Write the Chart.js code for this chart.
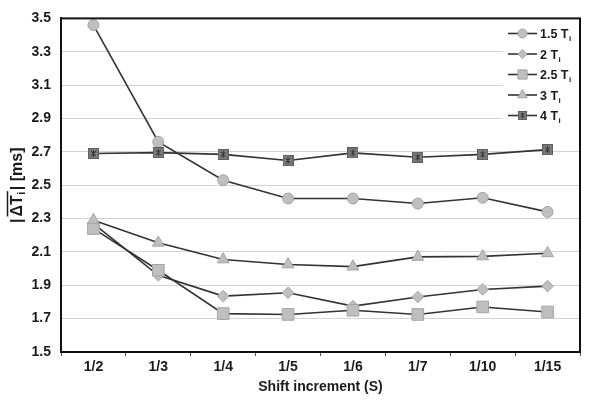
<!DOCTYPE html>
<html><head><meta charset="utf-8">
<script src="https://cdn.jsdelivr.net/npm/chart.js@4/dist/chart.umd.min.js"></script>
<style>html,body{margin:0;padding:0;background:#fff}canvas{display:block}</style>
</head><body>
<canvas id="c" width="600" height="408"></canvas>
<script>
const categories = ['1/2','1/3','1/4','1/5','1/6','1/7','1/10','1/15'];
const seriesLabels = ['1.5 Tᵢ','2 Tᵢ','2.5 Tᵢ','3 Tᵢ','4 Tᵢ'];
const t15 = [3.46, 2.76, 2.53, 2.42, 2.42, 2.39, 2.425, 2.34];
const t2  = [2.27, 1.96, 1.835, 1.855, 1.775, 1.83, 1.875, 1.895];
const t25 = [2.24, 1.99, 1.73, 1.725, 1.75, 1.725, 1.77, 1.74];
const t3  = [2.29, 2.155, 2.055, 2.025, 2.012, 2.07, 2.073, 2.092];
const t4  = [2.69, 2.695, 2.685, 2.648, 2.694, 2.668, 2.685, 2.713];
const yTicks = [1.5, 1.7, 1.9, 2.1, 2.3, 2.5, 2.7, 2.9, 3.1, 3.3, 3.5];
const xTitle = 'Shift increment (S)';
const yTitle = '|ΔTᵢ| [ms]';

const FONT = "'Liberation Sans', Arial, sans-serif";
Chart.defaults.font.family = FONT;
Chart.defaults.color = '#1a1a1a';

const MF = '#bfbfbf', MB = '#a3a3a3', LINE = '#333333';

function starSquare(s) {
  const c = document.createElement('canvas');
  c.width = s; c.height = s;
  const g = c.getContext('2d');
  g.fillStyle = '#7c7c7c'; g.fillRect(0, 0, s, s);
  g.strokeStyle = '#5e5e5e'; g.lineWidth = 1; g.strokeRect(0.5, 0.5, s - 1, s - 1);
  g.strokeStyle = '#2e2e2e'; g.lineWidth = 1;
  const a = s * 0.28, b = s * 0.72, m = s / 2;
  g.beginPath();
  g.moveTo(a, a); g.lineTo(b, b);
  g.moveTo(b, a); g.lineTo(a, b);
  g.moveTo(m, s * 0.2); g.lineTo(m, s * 0.8);
  g.stroke();
  return c;
}
const star11 = starSquare(11);

const styles = [
  {pointStyle: 'circle', radius: 5.5, lr: 4.5},
  {pointStyle: 'rectRot', radius: 5.8, lr: 4.6},
  {pointStyle: 'rect', radius: 8.2, lr: 6.5},
  {pointStyle: 'triangle', radius: 6.8, lr: 5.5},
  {pointStyle: star11, radius: 6, lr: 4.5}
];
const seriesData = [t15, t2, t25, t3, t4];

const datasets = seriesData.map((d, i) => ({
  label: seriesLabels[i],
  data: d,
  borderColor: LINE,
  borderWidth: 1.6,
  backgroundColor: MF,
  pointBackgroundColor: MF,
  pointBorderColor: MB,
  pointBorderWidth: 1,
  pointStyle: styles[i].pointStyle,
  pointRadius: styles[i].radius,
  tension: 0,
  fill: false,
  order: 5 - i
}));

const frame = {
  id: 'frame',
  afterDraw(chart) {
    const {ctx, chartArea: a} = chart;
    ctx.save();
    ctx.strokeStyle = '#111'; ctx.lineWidth = 2;
    ctx.strokeRect(a.left, a.top, a.right - a.left, a.bottom - a.top);
    ctx.restore();
  }
};

const legendBox = {
  id: 'legendBox',
  beforeDatasetsDraw(chart) {
    const ctx = chart.ctx;
    ctx.save();
    ctx.fillStyle = '#fff';
    ctx.fillRect(503, 21, chart.chartArea.right - 504, 106);
    ctx.restore();
  },
  afterDatasetsDraw(chart) {
    const ctx = chart.ctx;
    ctx.save();
    const x0 = 508, x1 = 537, xm = 522.5, tx = 540;
    chart.data.datasets.forEach((ds, i) => {
      const y = 33.5 + i * 20.5;
      ctx.strokeStyle = LINE; ctx.lineWidth = 1.6;
      ctx.beginPath(); ctx.moveTo(x0, y); ctx.lineTo(x1, y); ctx.stroke();
      const st = styles[i];
      if (typeof st.pointStyle === 'string') {
        ctx.fillStyle = MF; ctx.strokeStyle = MB; ctx.lineWidth = 1;
        Chart.helpers.drawPoint(ctx, {pointStyle: st.pointStyle, radius: st.lr, rotation: 0, borderWidth: 1}, xm, y);
      } else {
        ctx.drawImage(st.pointStyle, xm - 4.5, y - 4.5, 9, 9);
      }
      let lab = ds.label, sub = '';
      if (lab.endsWith('ᵢ')) { sub = 'i'; lab = lab.slice(0, -1); }
      ctx.fillStyle = '#1a1a1a';
      ctx.font = 'bold 12.5px ' + FONT;
      ctx.textBaseline = 'alphabetic'; ctx.textAlign = 'left';
      ctx.fillText(lab, tx, y + 4.5);
      const w = ctx.measureText(lab).width;
      ctx.font = 'bold 8px ' + FONT;
      ctx.fillText(sub, tx + w + 0.5, y + 7.5);
    });
    ctx.restore();
  }
};

const yTitlePlugin = {
  id: 'yTitle',
  afterDraw(chart) {
    const ctx = chart.ctx;
    const a = chart.chartArea;
    ctx.save();
    ctx.translate(16, (a.top + a.bottom) / 2);
    ctx.rotate(-Math.PI / 2);
    ctx.fillStyle = '#1a1a1a';
    const big = 'bold 16px ' + FONT, small = 'bold 11px ' + FONT;
    const p1 = yTitle.slice(0, 1);
    const p2 = yTitle.slice(1, 3);
    const p4 = yTitle.slice(4);
    ctx.font = big;
    const w1 = ctx.measureText(p1).width + 2, w2 = ctx.measureText(p2).width;
    const w4 = ctx.measureText(p4).width;
    ctx.font = small;
    const w3 = ctx.measureText('i').width + 2;
    const total = w1 + w2 + w3 + w4;
    let x = -total / 2;
    const base = 5.5;
    ctx.textBaseline = 'alphabetic'; ctx.textAlign = 'left';
    ctx.font = big; ctx.fillText(p1, x, base); x += w1;
    const ox0 = x;
    ctx.fillText(p2, x, base); x += w2;
    ctx.font = small; ctx.fillText('i', x + 0.5, base + 3); x += w3;
    const ox1 = x - 1;
    ctx.font = big; ctx.fillText(p4, x, base);
    ctx.strokeStyle = '#1a1a1a'; ctx.lineWidth = 1.5;
    ctx.beginPath(); ctx.moveTo(ox0, base - 14); ctx.lineTo(ox1, base - 14); ctx.stroke();
    ctx.restore();
  }
};

new Chart(document.getElementById('c'), {
  type: 'line',
  data: {labels: categories, datasets},
  options: {
    responsive: false,
    animation: false,
    devicePixelRatio: 1,
    layout: {padding: {left: 0, right: 20, top: 12, bottom: 0}},
    plugins: {legend: {display: false}, tooltip: {enabled: false}},
    scales: {
      x: {
        offset: true,
        grid: {display: true, drawOnChartArea: false, drawTicks: true, tickLength: 4, color: '#555', offset: true},
        border: {display: true, color: '#111', width: 2},
        ticks: {font: {size: 14, weight: 'bold'}, color: '#1a1a1a', padding: 3, maxRotation: 0, autoSkip: false},
        title: {display: true, text: xTitle, font: {size: 14, weight: 'bold'}, color: '#1a1a1a', padding: {top: 0, bottom: 12}},
        afterFit(s) { s.height = 56; }
      },
      y: {
        min: 1.5, max: 3.5,
        afterBuildTicks(s) { s.ticks = yTicks.map(v => ({value: v})); },
        grid: {color: '#d3d3d3', lineWidth: 1, drawTicks: false},
        border: {display: true, color: '#111', width: 2},
        ticks: {font: {size: 14, weight: 'bold'}, color: '#1a1a1a', padding: 10, callback: v => Number(v).toFixed(1)},
        title: {display: false, text: yTitle},
        afterFit(s) { s.width = 61; }
      }
    }
  },
  plugins: [legendBox, frame, yTitlePlugin]
});
</script>
</body></html>
